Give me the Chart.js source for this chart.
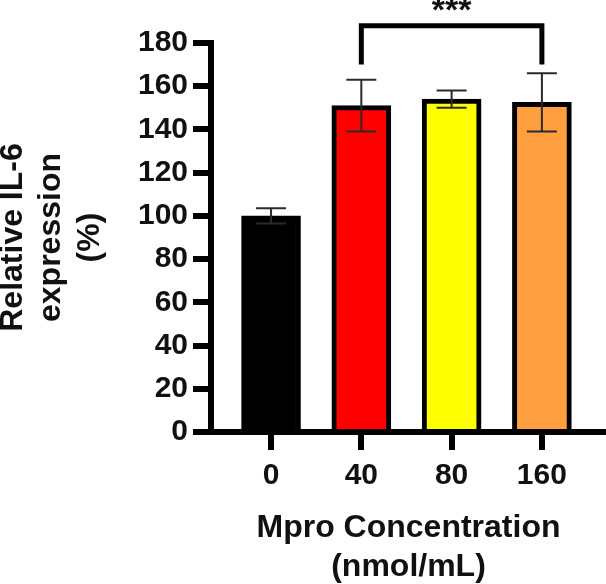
<!DOCTYPE html>
<html>
<head>
<meta charset="utf-8">
<script src="https://cdn.jsdelivr.net/npm/chart.js@4/dist/chart.umd.min.js"></script>
<style>
  html, body { margin: 0; padding: 0; background: #fff; }
  #wrap { width: 606px; height: 584px; }
</style>
</head>
<body>
<div id="wrap"><canvas id="il6Chart" width="606" height="584"></canvas></div>
<script>
// dados
const categories = ['0', '40', '80', '160'];
const meanValues = [100, 151, 154, 152.5];
const sdValues = [3.5, 12, 4, 13.5];
const barColors = ['#000000', '#ff0000', '#ffff00', '#ff9f40'];
const yTicks = [0, 20, 40, 60, 80, 100, 120, 140, 160, 180];
// comparação significativa: 40 vs 160
const sigPair = [1, 3];
const sigLabel = '***';
const bracketTop = 188;
const bracketFoot = 170;

const fontFamily = '"Liberation Sans", Arial, Helvetica, sans-serif';
const inkColor = '#111111';

// barras de erro (média ± DP)
const errorBarPlugin = {
    id: 'errorBars',
    afterDatasetsDraw(chart) {
        const ctx = chart.ctx;
        const xs = chart.scales.x, ys = chart.scales.y;
        ctx.save();
        ctx.strokeStyle = '#2a2a2a';
        ctx.lineWidth = 2;
        meanValues.forEach((m, i) => {
            const x = xs.getPixelForValue(i);
            const yHi = ys.getPixelForValue(m + sdValues[i]);
            const yLo = ys.getPixelForValue(m - sdValues[i]);
            const cap = 15;
            ctx.beginPath();
            ctx.moveTo(x, yHi); ctx.lineTo(x, yLo);
            ctx.moveTo(x - cap, yHi); ctx.lineTo(x + cap, yHi);
            ctx.moveTo(x - cap, yLo); ctx.lineTo(x + cap, yLo);
            ctx.stroke();
        });
        ctx.restore();
    }
};

// colchete de significância
const bracketPlugin = {
    id: 'sigBracket',
    afterDraw(chart) {
        const ctx = chart.ctx;
        const xs = chart.scales.x, ys = chart.scales.y;
        const x1 = xs.getPixelForValue(sigPair[0]);
        const x2 = xs.getPixelForValue(sigPair[1]);
        const yt = ys.getPixelForValue(bracketTop);
        const yf = ys.getPixelForValue(bracketFoot);
        ctx.save();
        ctx.strokeStyle = '#000';
        ctx.lineWidth = 5;
        ctx.lineJoin = 'miter';
        ctx.beginPath();
        ctx.moveTo(x1, yf); ctx.lineTo(x1, yt); ctx.lineTo(x2, yt); ctx.lineTo(x2, yf);
        ctx.stroke();
        ctx.fillStyle = inkColor;
        ctx.font = 'bold 34px ' + fontFamily;
        ctx.textAlign = 'center';
        ctx.textBaseline = 'alphabetic';
        ctx.fillText(sigLabel, (x1 + x2) / 2, yt - 5);
        ctx.restore();
    }
};

const chartData = {
    datasets: [{
        data: categories.map((c, i) => ({ x: i, y: meanValues[i] })),
        backgroundColor: barColors,
        borderColor: '#000000',
        borderWidth: 5,
        barThickness: 59
    }]
};

new Chart(document.getElementById('il6Chart').getContext('2d'), {
    type: 'bar',
    data: chartData,
    options: {
        responsive: false,
        animation: false,
        events: [],
        layout: { padding: { top: 43, right: 0, left: 0, bottom: 0 } },
        plugins: { legend: { display: false }, tooltip: { enabled: false } },
        scales: {
            x: {
                type: 'linear',
                position: 'bottom',
                offset: false,
                min: -0.665,
                max: 3.71,
                afterBuildTicks: (s) => { s.ticks = categories.map((c, i) => ({ value: i })); },
                afterFit: (s) => { s.height = 152; },
                grid: { display: true, offset: false, drawOnChartArea: false, tickLength: 18, lineWidth: 6, color: '#000' },
                border: { display: true, color: '#000', width: 6 },
                ticks: {
                    color: inkColor,
                    padding: 8,
                    font: { family: fontFamily, size: 30, weight: 'bold' },
                    callback: (v) => categories[v]
                },
                title: {
                    display: true,
                    text: ['Mpro Concentration', '(nmol/mL)'],
                    color: inkColor,
                    font: { family: fontFamily, size: 32, weight: 'bold', lineHeight: 1.2 },
                    padding: { top: 0, bottom: -2 }
                }
            },
            y: {
                min: 0,
                max: 180,
                afterBuildTicks: (s) => { s.ticks = yTicks.map(v => ({ value: v })); },
                afterFit: (s) => { s.width = 211; },
                grid: { display: true, drawOnChartArea: false, tickLength: 18, lineWidth: 6, color: '#000' },
                border: { display: true, color: '#000', width: 6 },
                ticks: {
                    color: inkColor,
                    padding: 5,
                    font: { family: fontFamily, size: 30, weight: 'bold' }
                },
                title: {
                    display: true,
                    text: ['Relative IL-6', 'expression', '(%)'],
                    color: inkColor,
                    font: { family: fontFamily, size: 32, weight: 'bold', lineHeight: 1.2 },
                    padding: { top: -6, bottom: 0 }
                }
            }
        }
    },
    plugins: [errorBarPlugin, bracketPlugin]
});
</script>
</body>
</html>
